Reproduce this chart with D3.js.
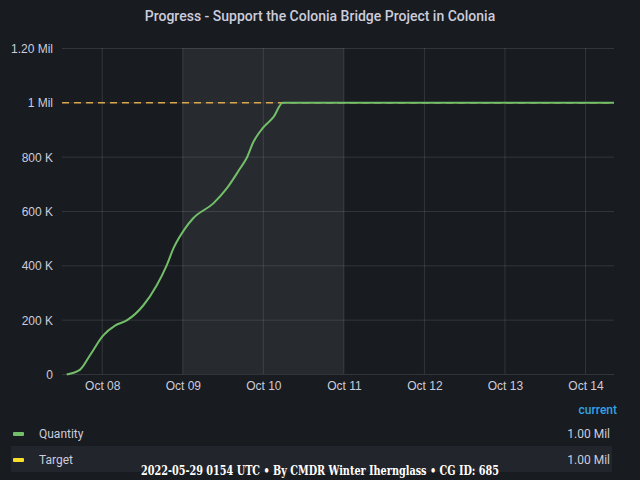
<!DOCTYPE html>
<html><head><meta charset="utf-8">
<script src="https://cdn.jsdelivr.net/npm/d3@7"></script>
<style>body{margin:0;background:#181b1f;}</style>
</head><body><div id="chart"></div>
<script>
// hours since Oct 07 00:00
const hours = [13.4, 17.4, 20.3, 24.3, 27.8, 31.3, 36.2, 40.2, 43.2, 45.2, 48.7, 51.1, 57.1, 61.1, 65.1, 67.0, 69.0, 72.0, 75.0, 77.8, 176.5];
const quantity = [0, 18000, 70000, 144000, 180000, 199000, 254000, 328000, 402000, 464000, 538000, 575000, 630000, 685000, 759000, 796000, 855000, 910000, 947000, 1000000, 1000000];
const target = 1000000;
const yTicks = [0, 200000, 400000, 600000, 800000, 1000000, 1200000];
const yLabels = ['0', '200 K', '400 K', '600 K', '800 K', '1 Mil', '1.20 Mil'];
const legendItems = [['Quantity', '#73bf69', '1.00 Mil'], ['Target', '#fade2a', '1.00 Mil']];

const W = 640, H = 480;
const svg = d3.select('#chart').append('svg').attr('width', W).attr('height', H)
  .style('font-family', 'Roboto, sans-serif');
svg.append('rect').attr('width', W).attr('height', H).attr('fill', '#181b1f');

const base = new Date(2021, 9, 7);
const t = h => new Date(base.getTime() + h * 3600e3);
const x = d3.scaleTime().domain([t(12), t(176.5)]).range([62, 614]);
const y = d3.scaleLinear().domain([0, 1200000]).range([374.5, 48.5]);

svg.append('text').attr('x', 320).attr('y', 21).attr('text-anchor', 'middle')
  .attr('fill', '#ccccdc').style('font-size', '14px').style('font-weight', 500)
  .text('Progress - Support the Colonia Bridge Project in Colonia');

// shaded region
svg.append('rect').attr('x', x(t(48))).attr('y', 48)
  .attr('width', x(t(96)) - x(t(48))).attr('height', 326)
  .attr('fill', 'rgba(120,120,130,0.17)');

const days = d3.range(1, 8).map(d => t(d * 24));
// grid
svg.append('g').selectAll('line').data(days).join('line')
  .attr('x1', d => x(d)).attr('x2', d => x(d)).attr('y1', 48).attr('y2', 374)
  .attr('stroke', 'rgba(204,204,220,0.15)');
svg.append('g').selectAll('line').data(yTicks).join('line')
  .attr('x1', 62).attr('x2', 614).attr('y1', d => y(d)).attr('y2', d => y(d))
  .attr('stroke', 'rgba(204,204,220,0.15)');

svg.append('g').attr('transform', 'translate(62,0)')
  .call(d3.axisLeft(y).tickValues(yTicks).tickFormat((d, i) => yLabels[i]).tickSize(0).tickPadding(9))
  .call(g => g.select('.domain').remove())
  .selectAll('text').attr('fill', '#ccccdc').style('font-size', '12px');

svg.append('g').attr('transform', 'translate(0,374)')
  .call(d3.axisBottom(x).tickValues(days).tickFormat(d3.timeFormat('%b %d')).tickSize(0).tickPadding(7))
  .call(g => g.select('.domain').remove())
  .selectAll('text').attr('fill', '#ccccdc').style('font-size', '12px');

// target line
svg.append('line').attr('x1', 62).attr('x2', 614).attr('y1', y(target)).attr('y2', y(target))
  .attr('stroke', '#d9a54e').attr('stroke-width', 1.5).attr('stroke-dasharray', '7,5');

svg.append('path').datum(hours.map((h, i) => [t(h), quantity[i]]))
  .attr('fill', 'none').attr('stroke', '#73bf69').attr('stroke-width', 2)
  .attr('d', d3.line().x(d => x(d[0])).y(d => y(d[1])).curve(d3.curveMonotoneX));

// legend
svg.append('text').attr('x', 617).attr('y', 414).attr('text-anchor', 'end')
  .attr('fill', '#33a2e5').style('font-size', '12px').style('font-weight', 500).text('current');
svg.append('rect').attr('x', 11).attr('y', 446).attr('width', 601).attr('height', 26).attr('fill', '#22252b');
legendItems.forEach(([name, color, val], i) => {
  const yy = 434 + i * 26;
  svg.append('rect').attr('x', 13).attr('y', yy - 2).attr('width', 11).attr('height', 4).attr('rx', 1).attr('fill', color);
  svg.append('text').attr('x', 39).attr('y', yy + 4).attr('fill', '#ccccdc').style('font-size', '12px').text(name);
  svg.append('text').attr('x', 610).attr('y', yy + 4).attr('text-anchor', 'end').attr('fill', '#ccccdc').style('font-size', '12px').text(val);
});

svg.append('text').attr('x', 320).attr('y', 475).attr('text-anchor', 'middle')
  .attr('fill', '#ffffff').style('font-family', '"DejaVu Serif Condensed", "DejaVu Serif", serif')
  .style('font-weight', 'bold').style('font-size', '12px')
  .attr('textLength', 358).attr('lengthAdjust', 'spacingAndGlyphs')
  .text('2022-05-29 0154 UTC • By CMDR Winter Iherngl' + 'ass • CG ID: 685');
</script></body></html>
